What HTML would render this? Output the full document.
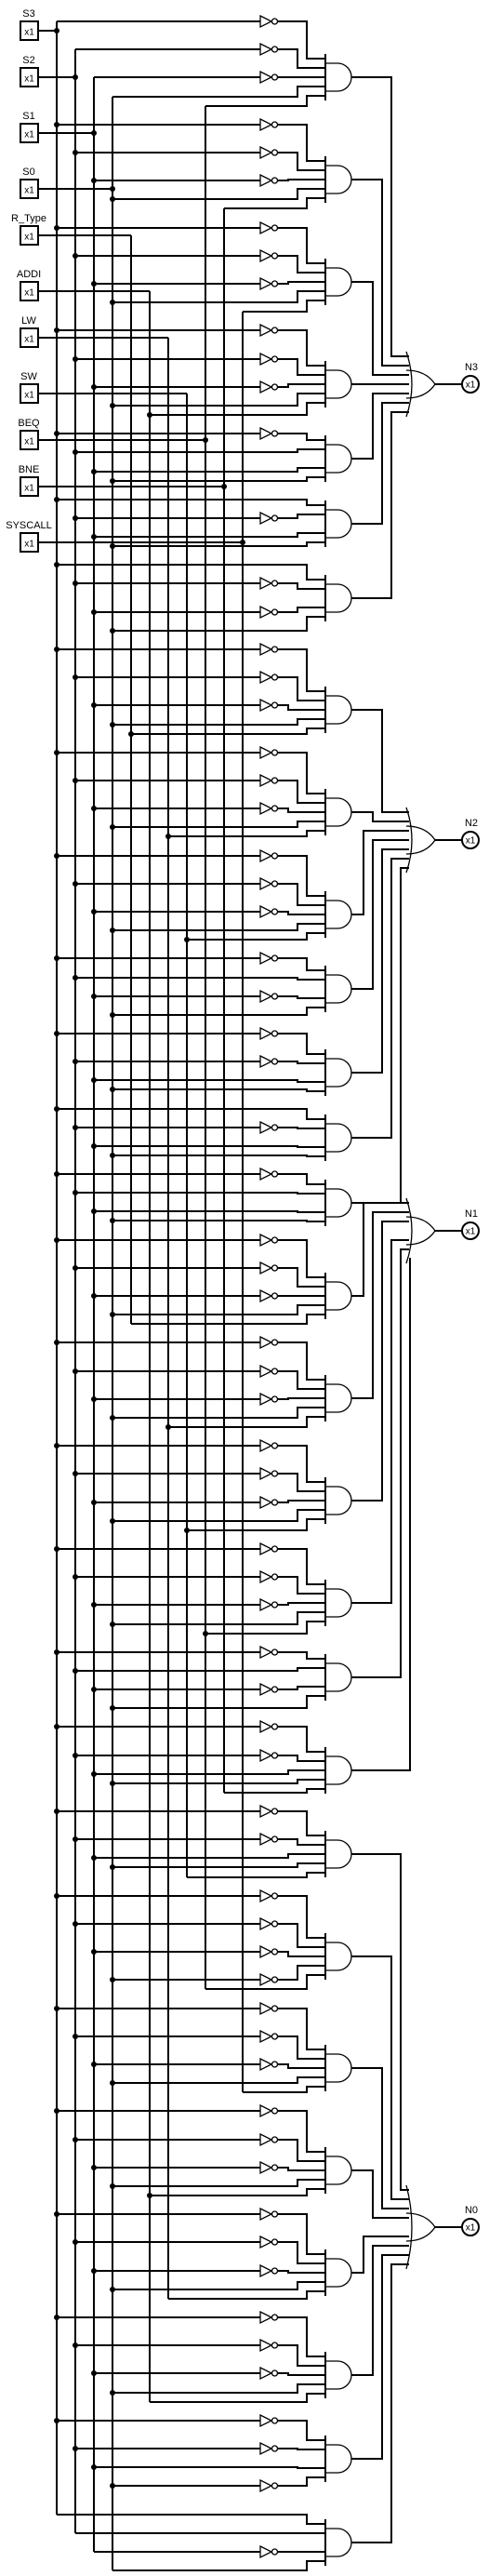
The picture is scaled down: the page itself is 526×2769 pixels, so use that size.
<!DOCTYPE html>
<html><head><meta charset="utf-8">
<style>
html,body{margin:0;padding:0;background:#fff;}
svg{display:block;}
text{font-family:"Liberation Sans",sans-serif;fill:#000;}
</style></head>
<body>
<svg id="c" width="526" height="2769" viewBox="0 0 526 2769" xmlns="http://www.w3.org/2000/svg"></svg>
<script>
const inputNames = ["S3","S2","S1","S0","R_Type","ADDI","LW","SW","BEQ","BNE","SYSCALL"];
const outputNames = ["N3","N2","N1","N0"];
const groupSizes = [7,7,6,8];
const terms = [
["S3'","S2'","S1'","S0","BEQ"],
["S3'","S2'","S1'","S0","BNE"],
["S3'","S2'","S1'","S0","SYSCALL"],
["S3'","S2'","S1'","S0","ADDI"],
["S3'","S2","S1","S0"],
["S3","S2'","S1","S0"],
["S3","S2'","S1'","S0"],
["S3'","S2'","S1'","S0","R_Type"],
["S3'","S2'","S1'","S0","LW"],
["S3'","S2'","S1'","S0","SW"],
["S3'","S2","S1'","S0"],
["S3'","S2'","S1","S0"],
["S3","S2'","S1","S0"],
["S3'","S2","S1","S0"],
["S3'","S2'","S1'","S0","R_Type"],
["S3'","S2'","S1'","S0","LW"],
["S3'","S2'","S1'","S0","SW"],
["S3'","S2'","S1'","S0","BEQ"],
["S3'","S2","S1'","S0"],
["S3'","S2'","S1","S0","BNE"],
["S3'","S2'","S1","S0","SW"],
["S3'","S2'","S1'","S0'","BEQ"],
["S3'","S2'","S1'","S0","SYSCALL"],
["S3'","S2'","S1'","S0","ADDI"],
["S3'","S2'","S1'","S0","LW"],
["S3'","S2'","S1'","S0","ADDI"],
["S3'","S2'","S1","S0'"],
["S3","S2","S1'","S0"]
];
const boxTops = [23,73,133,193,243,303,353,413,463,513,573];
const orCenters = [413,903,1323,2394];

const NS="http://www.w3.org/2000/svg";
const svg=document.getElementById('c');
function el(tag,attrs,parent){const e=document.createElementNS(NS,tag);for(const k in attrs)e.setAttribute(k,attrs[k]);(parent||svg).appendChild(e);return e;}
const busX = i => 61 + 20*i;
const isNeg = l => l.endsWith("'");
const isOp = l => inputNames.indexOf(l.replace("'",""))>=4;

let raw=[]; let yy0=0;
terms.forEach((t,ti)=>{
  const rows=[];
  t.forEach((lit,li)=>{
    if(li>0){
      const prev=t[li-1];
      let s;
      if(isOp(lit)) s=10;
      else if(isNeg(lit)) s=isNeg(prev)?30:20;
      else s=(lit==="S0"&&!isNeg(prev))?10:20;
      yy0+=s;
    }
    rows.push(yy0);
  });
  raw.push(rows);
  yy0 += isNeg(t[t.length-1])?30:20;
});
const lastRaw = raw[raw.length-1][raw[raw.length-1].length-1];
const scaleF = (2763-23)/lastRaw;
const rowsY = raw.map(r=>r.map(v=>23+Math.round(v*scaleF)));

const busTop=[],busBot=[],uses=inputNames.map(()=>[]);
terms.forEach((t,ti)=>t.forEach((lit,li)=>{const idx=inputNames.indexOf(lit.replace("'",""));uses[idx].push(rowsY[ti][li]);}));
inputNames.forEach((n,i)=>{
  const by=boxTops[i]+10;
  const u=uses[i];
  busTop[i]=Math.min(by,...u); busBot[i]=Math.max(by,...u);
});
const wires=el('g',{stroke:'#000','stroke-width':2,fill:'none'});


const dots=el('g',{fill:'#000'});
function dot(x,yy){const d=el('circle',{cx:x,cy:yy,r:3},dots);}
function maybeDot(i,yy){if(yy>busTop[i]&&yy<busBot[i])dot(busX(i),yy);}

inputNames.forEach((n,i)=>{
  const g=el('g',{});
  
  
  const bt=boxTops[i];
  el('rect',{x:22,y:bt,width:19,height:20,fill:'#fff',stroke:'#000','stroke-width':2},g);
  const tx=el('text',{x:31.5,y:bt+14.5,'font-size':10,'text-anchor':'middle'},g);tx.textContent='x1';
  const lb=el('text',{x:31,y:bt-5,'font-size':11,'text-anchor':'middle'},g);lb.textContent=n;
  el('line',{x1:41,y1:bt+10,x2:busX(i),y2:bt+10},wires);
  el('line',{x1:busX(i),y1:busTop[i],x2:busX(i),y2:busBot[i]},wires);
  maybeDot(i,bt+10);
});

const gateOut=[];
const gates=el('g',{stroke:'#000',fill:'none'});
terms.forEach((t,ti)=>{
  const rows=rowsY[ti]; const n=t.length;
  const med = n%2 ? rows[(n-1)/2] : (rows[n/2-1]+rows[n/2])/2;
  const cy=Math.round((med-3)/10)*10+3;
  gateOut.push(cy);
  const ins=[];
  if(n%2){for(let i=0;i<n;i++)ins.push(cy+(i-(n-1)/2)*10);}
  else{for(let i=0;i<n;i++){let o=i-n/2;if(o>=0)o+=1;ins.push(cy+o*10);}}
  const g=el('g',{},gates);
  
  
  t.forEach((lit,li)=>{
    const idx=inputNames.indexOf(lit.replace("'",""));
    const neg=isNeg(lit);const ry=rows[li],iy=ins[li];
    const bx=busX(idx);
    maybeDot(idx,ry);
    const jx=330-10*Math.min(li,n-1-li);
    let d;
    if(neg){
      el('line',{x1:bx,y1:ry,x2:280,y2:ry},wires);
      el('path',{d:`M280 ${ry-6} L292 ${ry} L280 ${ry+6} Z`,'stroke-width':1.3,fill:'#fff'},g);
      el('circle',{cx:295.5,cy:ry,r:3,'stroke-width':1.3,fill:'#fff'},g);
      d = ry===iy?`M298.5 ${ry} H350`:`M298.5 ${ry} H${jx} V${iy} H350`;
    } else {
      d = ry===iy?`M${bx} ${ry} H350`:`M${bx} ${ry} H${jx} V${iy} H350`;
    }
    el('path',{d:d},wires);
  });
  el('line',{x1:350,y1:ins[0]-5,x2:350,y2:ins[n-1]+5,'stroke-width':2},g);
  el('path',{d:`M350 ${cy-15} H363 A15 15 0 0 1 363 ${cy+15} H350`,'stroke-width':1.3},g);
});

let gi=0;
groupSizes.forEach((sz,oi)=>{
  const idxs=[];for(let k=0;k<sz;k++)idxs.push(gi+k);gi+=sz;
  const cy=orCenters[oi];
  const ins=[];
  if(sz%2){for(let i=0;i<sz;i++)ins.push(cy+(i-(sz-1)/2)*10);}
  else{for(let i=0;i<sz;i++){let o=i-sz/2;if(o>=0)o+=1;ins.push(cy+o*10);}}
  let kc=sz-1;
  for(let k=0;k<sz;k++){if(gateOut[idxs[k]]>=ins[k]){kc=k;break;}}
  idxs.forEach((gIdx,k)=>{
    const oy=gateOut[gIdx],iy=ins[k];
    const lx=391+10*Math.abs(k-kc);
    const d = oy===iy?`M378 ${oy} H440`:`M378 ${oy} H${lx} V${iy} H440`;
    el('path',{d:d},wires);
  });
  const g=el('g',{stroke:'#000',fill:'none'});
  
  
  const h=Math.max(20,Math.abs(ins[0]-cy)+5,Math.abs(ins[sz-1]-cy)+5);
  el('path',{d:`M437 ${cy-h} Q449 ${cy} 437 ${cy+h}`,'stroke-width':1.3},g);
  el('path',{d:`M437 ${cy-15} Q458 ${cy-15} 468 ${cy} Q458 ${cy+15} 437 ${cy+15}`,'stroke-width':1.3},g);
  el('line',{x1:468,y1:cy,x2:497,y2:cy,'stroke-width':2},g);
  const o=el('g',{});
  
  
  el('circle',{cx:506,cy:cy,r:9,fill:'#fff',stroke:'#000','stroke-width':2},o);
  const tx=el('text',{x:506,y:cy+3.5,'font-size':10,'text-anchor':'middle'},o);tx.textContent='x1';
  const lb=el('text',{x:507,y:cy-15,'font-size':11,'text-anchor':'middle'},o);lb.textContent=outputNames[oi];
});
svg.appendChild(dots);
</script>
</body></html>
